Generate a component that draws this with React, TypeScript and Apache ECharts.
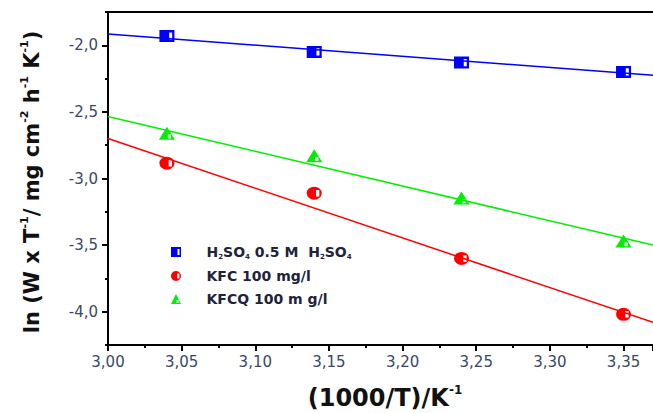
import React, { useEffect, useRef } from "react";
import * as echarts from "echarts";

const seriesNames = ["H2SO4", "KFC", "KFCQ"];
const xPoints = [3.04, 3.14, 3.24, 3.35];
const h2so4Values = [-1.93, -2.05, -2.13, -2.2];
const kfcValues = [-2.885, -3.11, -3.6, -4.02];
const kfcqValues = [-2.66, -2.83, -3.147, -3.47];
const fitX = [3.0, 3.37];
const h2so4Fit = [-1.915, -2.225];
const kfcFit = [-2.7, -4.08];
const kfcqFit = [-2.535, -3.5];
const yMajorTicks = [-4.0, -3.5, -3.0, -2.5, -2.0];
const colors = ["#0000ff", "#ff0000", "#00ee00"];

const FONT = "'DejaVu Sans', Verdana, sans-serif";

const SQ = "path://M0 0H10V10H0Z M6.5 2V8H8.5V2Z";
const CI = "path://M5 0A5 5 0 1 1 5 10A5 5 0 1 1 5 0Z M6.2 2.5V7.5H8.4V2.5Z";
const TR = "path://M5 0L10 10L0 10Z M5.6 6V9H7.6V6Z";

export default function App() {
  const ref = useRef<HTMLDivElement>(null);
  useEffect(() => {
    if (!ref.current) return;
    const chart = echarts.init(ref.current, null, { renderer: "svg" });
    const pts = (vals: number[]) => xPoints.map((x, i) => [x, vals[i]]);
    const fit = (vals: number[]) => fitX.map((x, i) => [x, vals[i]]);
    const legendFmt: Record<string, string> = {
      H2SO4: "{p|}{b|H}{s|2}{b|SO}{s|4}{b| 0.5 M  H}{s|2}{b|SO}{s|4}",
      KFC: "{p|}{b|KFC 100 mg/l}",
      KFCQ: "{p|}{b|KFCQ 100 m g/l}",
    };
    const fmtNum = (v: number) => v.toFixed(2).replace(".", ",");
    const labelColor = "#3b4766";
    chart.setOption({
      animation: false,
      backgroundColor: "#ffffff",
      grid: { left: 108, right: 0, top: 12, bottom: 68, containLabel: false },
      xAxis: [
        {
          type: "value",
          min: 3.0,
          max: 3.37,
          interval: 0.05,
          position: "bottom",
          axisLine: { show: true, onZero: false, lineStyle: { color: "#000", width: 2 } },
          axisTick: { show: true, length: 6, lineStyle: { color: "#000", width: 2 } },
          minorTick: { show: true, splitNumber: 2, length: 3, lineStyle: { color: "#000", width: 2 } },
          splitLine: { show: false },
          axisLabel: {
            margin: 9,
            fontFamily: FONT,
            fontSize: 15,
            color: labelColor,
            showMaxLabel: false,
            formatter: (v: number) => fmtNum(v),
          },
        },
        {
          type: "value",
          min: 3.0,
          max: 3.37,
          position: "top",
          axisLine: { show: true, onZero: false, lineStyle: { color: "#000", width: 2 } },
          axisTick: { show: false },
          axisLabel: { show: false },
          splitLine: { show: false },
        },
      ],
      yAxis: [
        {
          type: "value",
          min: -4.25,
          max: -1.75,
          interval: 0.25,
          axisLine: { show: true, onZero: false, lineStyle: { color: "#000", width: 2 } },
          axisTick: { show: true, length: 3, lineStyle: { color: "#000", width: 2 } },
          axisLabel: { show: false },
          splitLine: { show: false },
        },
        {
          type: "value",
          min: -4.25,
          max: -1.75,
          position: "left",
          axisLine: { show: false },
          axisTick: { show: true, length: 6, customValues: yMajorTicks, lineStyle: { color: "#000", width: 2 } },
          axisLabel: {
            show: true,
            customValues: yMajorTicks,
            margin: 10,
            fontFamily: FONT,
            fontSize: 15,
            color: labelColor,
            formatter: (v: number) => v.toFixed(1).replace(".", ","),
          },
          splitLine: { show: false },
        },
      ],
      legend: {
        orient: "vertical",
        left: 166,
        top: 240,
        itemWidth: 11,
        itemHeight: 10,
        itemGap: 9,
        data: [
          { name: seriesNames[0], icon: SQ },
          { name: seriesNames[1], icon: CI },
          { name: seriesNames[2], icon: TR },
        ],
        formatter: (name: string) => legendFmt[name],
        textStyle: {
          fontFamily: FONT,
          rich: {
            p: { width: 20 },
            b: { fontSize: 14, fontWeight: "bold", color: "#22223a", fontFamily: FONT, lineHeight: 16 },
            s: { fontSize: 7, fontWeight: "bold", color: "#22223a", verticalAlign: "bottom", fontFamily: FONT, lineHeight: 16 },
          },
        },
      },
      graphic: [
        {
          type: "text",
          x: 32,
          y: 182,
          rotation: Math.PI / 2,
          style: {
            text: "{b|ln (W x T}{s|-1}{b|/ mg cm}{s|-2}{b| h}{s|-1}{b| K}{s|-1}{b|)}",
            align: "center",
            verticalAlign: "middle",
            rich: {
              b: { fontSize: 21, fontWeight: "bold", fill: "#111", fontFamily: FONT, lineHeight: 26 },
              s: { fontSize: 11, fontWeight: "bold", fill: "#111", fontFamily: FONT, verticalAlign: "top", lineHeight: 26 },
            },
          },
        },
        {
          type: "text",
          x: 385,
          y: 398,
          style: {
            text: "{b|(1000/T)/K}{s|-1}",
            align: "center",
            verticalAlign: "middle",
            rich: {
              b: { fontSize: 24, fontWeight: "bold", fill: "#111", fontFamily: FONT, lineHeight: 28 },
              s: { fontSize: 12, fontWeight: "bold", fill: "#111", fontFamily: FONT, verticalAlign: "top", lineHeight: 28 },
            },
          },
        },
      ],
      series: [
        {
          name: "H2SO4-fit",
          type: "line",
          data: fit(h2so4Fit),
          symbol: "none",
          lineStyle: { color: colors[0], width: 1.5 },
          silent: true,
        },
        {
          name: "KFC-fit",
          type: "line",
          data: fit(kfcFit),
          symbol: "none",
          lineStyle: { color: colors[1], width: 1.5 },
          silent: true,
        },
        {
          name: "KFCQ-fit",
          type: "line",
          data: fit(kfcqFit),
          symbol: "none",
          lineStyle: { color: colors[2], width: 1.5 },
          silent: true,
        },
        {
          name: "H2SO4",
          type: "scatter",
          data: pts(h2so4Values),
          symbol: SQ,
          symbolSize: [15, 12],
          itemStyle: { color: colors[0], opacity: 1 },
        },
        {
          name: "KFC",
          type: "scatter",
          data: pts(kfcValues),
          symbol: CI,
          symbolSize: [15, 13],
          itemStyle: { color: colors[1], opacity: 1 },
        },
        {
          name: "KFCQ",
          type: "scatter",
          data: pts(kfcqValues),
          symbol: TR,
          symbolSize: [16, 13],
          itemStyle: { color: colors[2], opacity: 1 },
        },
      ],
    });
    return () => chart.dispose();
  }, []);
  return (
    <div
      ref={ref}
      style={{ position: "absolute", left: 0, top: 0, width: 653, height: 413 }}
    />
  );
}
